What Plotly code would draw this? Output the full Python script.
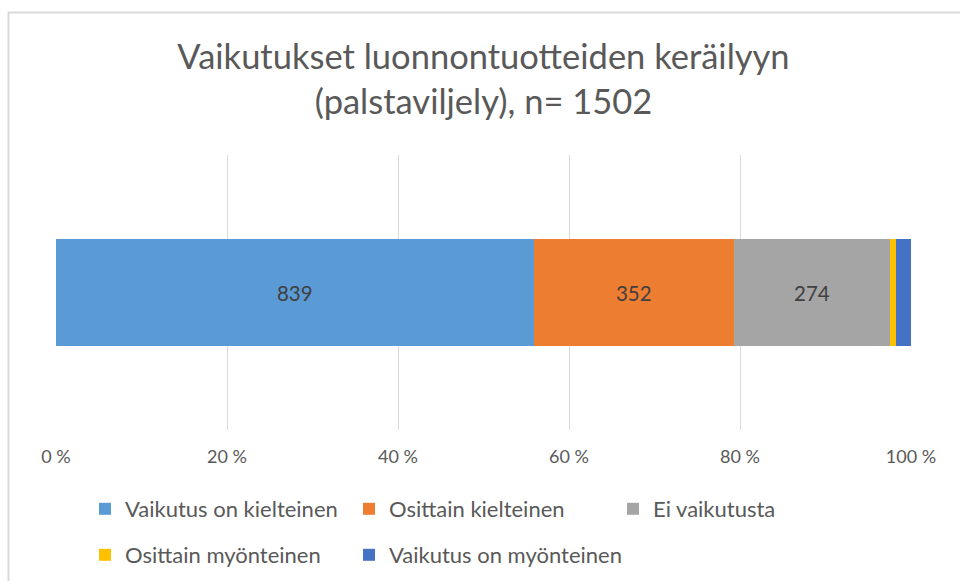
import plotly.graph_objects as go

categories = ["palstaviljely"]
series_names = ["Vaikutus on kielteinen", "Osittain kielteinen", "Ei vaikutusta",
                "Osittain myönteinen", "Vaikutus on myönteinen"]
series_values = [839, 352, 274, 11, 26]
series_labels = ["839", "352", "274", "", ""]
colors = ["#5B9BD5", "#ED7D31", "#A5A5A5", "#FFC000", "#4472C4"]
tick_vals = [0, 20, 40, 60, 80, 100]
tick_text = ["0 %", "20 %", "40 %", "60 %", "80 %", "100 %"]
title_text = "Vaikutukset luonnontuotteiden keräilyyn<br>(palstaviljely), n= 1502"

FONT = "Lato, Open Sans, sans-serif"
legend_ids = ["legend", "legend", "legend", "legend2", "legend3"]

fig = go.Figure()
for name, val, lab, col, lg in zip(series_names, series_values, series_labels, colors, legend_ids):
    fig.add_trace(go.Bar(
        y=categories, x=[val], name=name, orientation="h",
        marker=dict(color=col, line=dict(width=0)),
        text=[lab], textposition="inside", insidetextanchor="middle",
        textfont=dict(size=20.5, color="#404040", family=FONT),
        hoverinfo="x+name",
        legend=lg,
    ))

# plot area: x 56..911, y 155..430
pw, ph = 855, 275
def px(x):
    return (x - 56) / pw
def py(y):
    return (430 - y) / ph

legend_common = dict(
    orientation="h", xref="container", yref="container",
    xanchor="left", yanchor="middle", traceorder="normal",
    font=dict(size=22, color="#595959", family=FONT),
    itemwidth=30, bgcolor="rgba(0,0,0,0)", tracegroupgap=0,
)

fig.update_layout(
    width=960, height=581,
    paper_bgcolor="white", plot_bgcolor="white",
    margin=dict(l=56, r=49, t=155, b=151),
    barmode="stack", barnorm="percent", bargap=0.61,
    title=dict(text=title_text, x=0.5, xanchor="center", xref="paper",
               y=1 - 69 / 581, yanchor="middle", yref="container",
               font=dict(size=34.5, color="#595959", family=FONT)),
    xaxis=dict(range=[0, 100], tickvals=tick_vals, ticktext=tick_text,
               showgrid=True, gridcolor="#D9D9D9", gridwidth=1.3, zeroline=False,
               showline=False, ticks="", ticklabelstandoff=14,
               tickfont=dict(size=18, color="#595959", family=FONT)),
    yaxis=dict(showticklabels=False, showgrid=False, zeroline=False, showline=False),
    legend=dict(legend_common, x=85 / 960, y=1 - 509 / 581,
                entrywidth=219, entrywidthmode="pixels"),
    legend2=dict(legend_common, x=85 / 960, y=1 - 555 / 581),
    legend3=dict(legend_common, x=349 / 960, y=1 - 555 / 581),
    showlegend=True,
    shapes=[dict(type="rect", xref="paper", yref="paper",
                 x0=px(8.5), x1=px(1100), y0=py(12.5), y1=py(700),
                 line=dict(color="#D9D9D9", width=2), fillcolor="rgba(0,0,0,0)", layer="below")],
)

fig.write_html("out.html", config={"displayModeBar": False},
               post_script="document.body.style.margin='0';")
